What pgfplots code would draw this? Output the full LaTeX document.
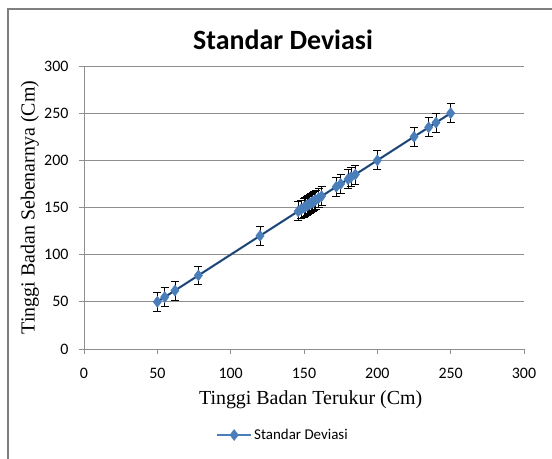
\documentclass[border=0pt]{standalone}
\usepackage{fontspec}
\setmainfont{Liberation Serif}
\newfontfamily\calibri{Carlito}
\usepackage{pgfplots}
\pgfplotsset{compat=1.18}
\definecolor{serblue}{HTML}{4A7EBB}
\definecolor{trend}{HTML}{1F3F66}
\definecolor{gridgray}{HTML}{8E8E8E}
\definecolor{framegray}{HTML}{7F7F7F}

\pgfplotstableread{
x y err
50 50 10
55 55 10
62 62 10
78 78 10
120 120 10
146 146 10
148 148 10
150 150 10
151 151 10
152 152 10
153 153 10
154 154 10
155 155 10
156 156 10
157 157 10
158 158 10
160 160 10
162 162 10
172 172 10
175 175 10
180 180 10
182 182 10
185 185 10
200 200 10
225 225 10
235 235 10
240 240 10
250 250 10
}\sddata

\begin{document}
\begin{tikzpicture}[x=1bp,y=1bp]
\useasboundingbox (-84,-110) rectangle (468,349);
\draw[framegray, line width=1.2pt] (-76,-112) -- (-76,340) -- (470,340);
\begin{axis}[
    at={(0,0)}, anchor=origin,
    scale only axis,
    width=440bp, height=283bp,
    xmin=0, xmax=300, ymin=0, ymax=300,
    xtick={0,50,...,300}, ytick={0,50,...,300},
    axis x line*=bottom, axis y line*=left,
    axis line style={gridgray, line width=0.8pt, -},
    tick style={gridgray, line width=0.8pt},
    tick align=outside,
    major tick length=5bp,
    ymajorgrids,
    grid style={gridgray, line width=0.8pt},
    /pgf/number format/assume math mode=true,
    ticklabel style={font=\calibri\fontsize{16}{18}\selectfont},
    xticklabel style={yshift=-11bp},
    yticklabel style={xshift=-7bp},
    xlabel={Tinggi Badan Terukur (Cm)},
    ylabel={Tinggi Badan Sebenarnya (Cm)},
    label style={font=\fontsize{20}{22}\selectfont},
    xlabel style={at={(axis description cs:0.515,-0.18)}, anchor=center},
    ylabel style={at={(axis description cs:-0.123,0.5)}, anchor=center},
    legend style={at={(rel axis cs:0.452,-0.304)}, anchor=center, draw=none, fill=none,
      font=\calibri\fontsize{15}{17}\selectfont, legend columns=1},
    legend cell align=left,
    legend image code/.code={
      \draw[mark repeat=2, mark phase=2, #1]
        plot coordinates {(0bp,0bp) (17bp,0bp) (34bp,0bp)};},
    clip=false,
  ]
\addplot[serblue, line width=2.2pt, mark=diamond*, mark size=5.5bp,
  mark options={fill=serblue, draw=serblue, line width=0.5pt},
  error bars/.cd, y dir=both, y explicit,
  error bar style={black, line width=0.8pt},
  error mark options={rotate=90, mark size=4bp, black, line width=0.8pt}]
  table[x=x, y=y, y error=err] {\sddata};
\addlegendentry{Standar Deviasi}
\addplot[trend, line width=1.4pt, forget plot] table[x=x, y=y] {\sddata};
\end{axis}
\node[font=\calibri\bfseries\fontsize{28}{32}\selectfont] at (199,309) {Standar Deviasi};
\end{tikzpicture}
\end{document}
